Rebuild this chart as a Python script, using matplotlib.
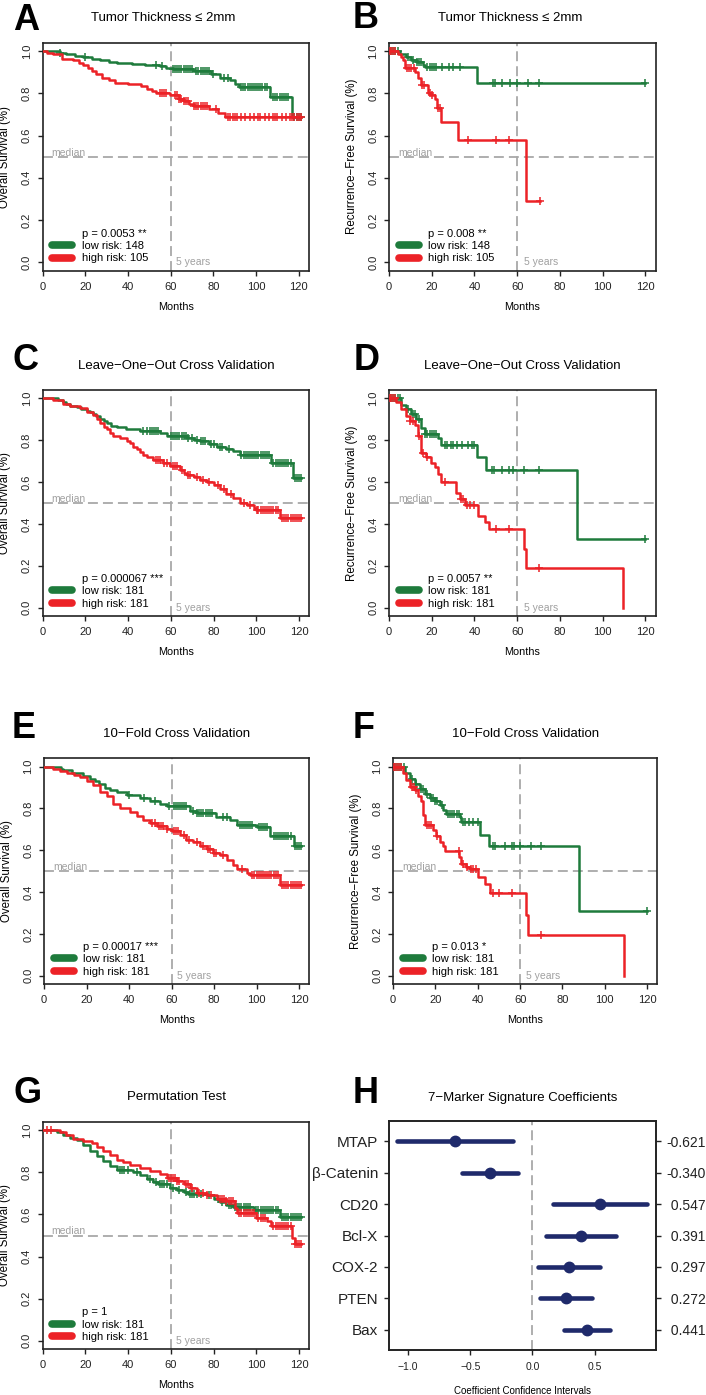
import numpy as np
import matplotlib
matplotlib.use('Agg')
import matplotlib.pyplot as plt
from matplotlib.lines import Line2D

plt.rcParams['font.family'] = ['Liberation Sans', 'DejaVu Sans']

W, H = 706, 1395
green = '#1e7b3c'
red = '#ec2227'
grey = '#a8a8a8'
navy = '#1f2a6b'

# ---- Kaplan-Meier curves: step times, survival, end, censor times ----
# A: overall survival, tumor thickness <= 2mm
a_low_t = [0, 8, 11, 15, 19, 23, 27, 31, 35, 42, 48, 55, 58, 61, 70.5, 79, 83, 88, 90, 92, 106.5, 116.6]
a_low_s = [1, 0.99, 0.985, 0.975, 0.97, 0.963, 0.957, 0.95, 0.945, 0.94, 0.935, 0.93, 0.921, 0.915, 0.905,
           0.89, 0.875, 0.863, 0.845, 0.831, 0.784, 0.69]
a_low_end = 121
a_low_c = [8, 20, 53, 56, 61, 62, 63, 64, 65, 66, 67, 68, 69, 70, 72, 73, 74, 75, 76, 77, 78, 80, 85, 87,
           93, 94, 95, 96, 97, 98, 99, 100, 101, 102, 103, 104, 105, 108, 109, 110, 111, 112, 113, 114,
           115, 118, 119, 120, 121]
a_high_t = [0, 2, 5, 9, 14, 17, 19, 21, 23, 25, 28, 31, 34, 40, 46, 49, 51, 53, 59.5, 64, 66, 68.5, 71, 78,
            82, 85.5]
a_high_s = [1, 0.99, 0.985, 0.965, 0.96, 0.945, 0.935, 0.92, 0.905, 0.89, 0.875, 0.865, 0.85, 0.845, 0.835,
            0.82, 0.81, 0.8, 0.79, 0.775, 0.765, 0.75, 0.74, 0.725, 0.705, 0.686]
a_high_end = 121
a_high_c = [55, 56, 57, 58, 62, 63, 64, 65, 66, 67, 68, 71, 72, 73, 74, 75, 76, 77, 81, 87, 88, 89, 90, 91,
            93, 95, 97, 99, 101, 102, 104, 106, 108, 109, 110, 112, 114, 116, 117, 118, 119, 120, 121]

# B: recurrence-free survival, tumor thickness <= 2mm
b_low_t = [0, 5, 8, 10.5, 13, 16, 17, 41.4]
b_low_s = [1, 0.985, 0.97, 0.957, 0.947, 0.934, 0.925, 0.85]
b_low_end = 120
b_low_c = [1, 2, 3, 4, 9, 11, 13, 14, 15, 18, 19, 20, 21, 22, 25, 28, 30, 33, 48.7, 49.5, 53, 56.5, 60,
           65, 70, 120]
b_high_t = [0, 4, 5.8, 6.5, 7.6, 12, 13.6, 15, 18.3, 19.5, 21.4, 22.5, 24.5, 32.3, 64.3]
b_high_s = [1, 0.985, 0.97, 0.96, 0.92, 0.9, 0.875, 0.84, 0.8, 0.79, 0.775, 0.73, 0.665, 0.58, 0.29]
b_high_end = 70.5
b_high_c = [0.5, 1, 2, 3, 8.5, 9.5, 10.5, 11.5, 15.5, 16.5, 19, 20, 23, 23.8, 37, 50.2, 56.2, 70.5]

# C: overall survival, leave-one-out
c_low_t = [0, 7, 9.7, 11, 13, 16, 18, 20.6, 22, 23.7, 25, 27, 28.5, 30, 32, 34.6, 39, 45.6, 55, 58, 67.4,
           71, 73.7, 78, 81.5, 86, 89, 92.4, 107, 117.4]
c_low_s = [1, 0.99, 0.985, 0.975, 0.965, 0.96, 0.95, 0.94, 0.935, 0.925, 0.915, 0.9, 0.89, 0.88, 0.87,
           0.865, 0.855, 0.845, 0.835, 0.82, 0.81, 0.8, 0.795, 0.78, 0.77, 0.76, 0.75, 0.73, 0.69, 0.62]
c_low_end = 121
c_low_c = [47, 49, 50, 51, 52, 53, 54, 60, 61, 62, 63, 64, 65, 66, 67, 68, 70, 72, 74, 75, 76, 79, 80, 83,
           84, 87, 93, 94, 95, 96, 97, 98, 99, 100, 101, 102, 103, 104, 105, 106, 108, 109, 110, 111, 112,
           113, 114, 115, 116, 118, 119, 120, 121]
c_high_t = [0, 5, 9.7, 12.8, 17.5, 20.6, 23.7, 25.5, 27, 28.5, 30, 31.5, 33, 36, 39.3, 41, 42.5, 44, 45.6,
            47, 48.7, 51.8, 56.5, 59.6, 64.3, 66, 67.4, 70.6, 73.7, 76.8, 80, 83, 86, 89.3, 92.4, 95.5,
            98.7, 100, 111]
c_high_s = [1, 0.99, 0.975, 0.965, 0.955, 0.935, 0.92, 0.9, 0.88, 0.865, 0.855, 0.835, 0.82, 0.81, 0.795,
            0.785, 0.77, 0.76, 0.745, 0.73, 0.72, 0.705, 0.69, 0.675, 0.66, 0.645, 0.635, 0.625, 0.61,
            0.6, 0.585, 0.565, 0.545, 0.525, 0.5, 0.49, 0.475, 0.465, 0.43]
c_high_end = 121
c_high_c = [53, 54, 55, 57, 58, 61, 62, 63, 65, 68, 69, 72, 75, 78, 82, 85, 88, 94, 97, 100.5, 101, 102,
            103, 104, 105, 106, 107, 108, 109, 110, 112, 113, 114, 115, 116, 117, 118, 119, 120, 121]

# D: recurrence-free survival, leave-one-out
d_low_t = [0, 5.8, 8.1, 10.5, 12.8, 15.1, 16.7, 23, 24.5, 41.2, 45.3, 88.2]
d_low_s = [1, 0.97, 0.95, 0.925, 0.9, 0.86, 0.83, 0.81, 0.775, 0.72, 0.66, 0.33]
d_low_end = 120
d_low_c = [1, 2, 3, 4, 5, 9, 11, 12, 14, 17, 18, 19, 20, 21, 22, 26, 27, 29, 30, 32, 34, 37, 39, 40, 48,
           49, 53, 56, 58, 63, 70, 120]
d_high_t = [0, 3.4, 5.8, 8.1, 9.7, 12, 13.6, 15.1, 17.5, 19.8, 21.4, 22.9, 24.5, 31.5, 33, 35.4, 41.7,
            44.8, 46.8, 63.2, 64, 109.3]
d_high_s = [1, 0.985, 0.95, 0.915, 0.89, 0.875, 0.82, 0.74, 0.72, 0.69, 0.67, 0.64, 0.6, 0.55, 0.52, 0.49,
            0.44, 0.41, 0.375, 0.28, 0.19, 0.0]
d_high_end = 109.3
d_high_c = [0.5, 1, 2, 3, 10, 11, 14, 16, 18, 26, 33.5, 34.5, 36.5, 38, 40, 50, 56, 70]

# E: overall survival, 10-fold
e_low_t = [0, 8, 9, 13, 18.5, 21.6, 24, 26, 28.5, 31, 34.2, 39, 45, 50, 54.6, 57.7, 68.7, 71.8, 81, 87.5,
           90.7, 100, 106.4, 117.4]
e_low_s = [1, 0.99, 0.985, 0.97, 0.955, 0.94, 0.93, 0.915, 0.9, 0.89, 0.88, 0.865, 0.85, 0.835, 0.82,
           0.81, 0.79, 0.78, 0.76, 0.745, 0.72, 0.71, 0.67, 0.62]
e_low_end = 121
e_low_c = [40, 47, 52, 59, 61, 62, 63, 64, 65, 66, 67, 70, 72, 73, 74, 75, 76, 77, 78, 79, 84, 86, 92, 93,
           94, 95, 96, 97, 98, 101, 102, 103, 104, 105, 108, 109, 110, 111, 112, 113, 114, 115, 116, 118,
           119, 120, 121]
e_high_t = [0, 4.4, 7.5, 10.7, 14, 17, 20, 23, 26.3, 29.5, 32.6, 35.8, 40.5, 43.6, 46.7, 50, 53, 57.7, 60,
            64, 67, 70, 73.4, 76.5, 79.7, 82.8, 86, 89, 90.7, 95.4, 97, 111]
e_high_s = [1, 0.99, 0.98, 0.97, 0.96, 0.95, 0.93, 0.91, 0.88, 0.86, 0.82, 0.8, 0.785, 0.765, 0.745, 0.73,
            0.715, 0.7, 0.69, 0.675, 0.65, 0.64, 0.62, 0.605, 0.585, 0.575, 0.555, 0.53, 0.51, 0.49, 0.48,
            0.435]
e_high_end = 121
e_high_c = [51, 52, 54, 55, 56, 58, 61, 62, 63, 66, 68, 72, 75, 77, 78, 80, 81, 84, 93, 98, 99, 100, 101,
            102, 103, 104, 105, 106, 107, 108, 109, 110, 112, 113, 114, 115, 116, 117, 118, 119, 120, 121]

# F: recurrence-free survival, 10-fold
f_low_t = [0, 5.5, 7.9, 10.2, 12.6, 15, 17.3, 19.7, 22, 23.6, 25, 31.5, 32.2, 40.9, 45.3, 88]
f_low_s = [1, 0.97, 0.94, 0.915, 0.895, 0.87, 0.85, 0.835, 0.815, 0.795, 0.775, 0.76, 0.735, 0.675, 0.62,
           0.31]
f_low_end = 120
f_low_c = [1, 2, 3, 4, 5, 9, 11, 13, 14, 16, 18, 19, 20, 21, 23, 26, 27, 28, 29, 30, 31, 33, 34, 36, 38,
           40, 47, 48, 53, 56, 57, 60, 65, 70, 120]
f_high_t = [0, 4.7, 6.3, 7.9, 10.2, 11.8, 13.4, 14.2, 15, 18.9, 20.4, 22, 23.6, 24.4, 31.1, 32.2, 34.6,
            36.2, 40.1, 43.3, 45.6, 62.6, 63.7, 109.3]
f_high_s = [1, 0.97, 0.935, 0.905, 0.89, 0.86, 0.835, 0.77, 0.72, 0.695, 0.67, 0.64, 0.62, 0.595, 0.57,
            0.535, 0.52, 0.51, 0.47, 0.44, 0.395, 0.29, 0.195, 0.0]
f_high_end = 109.3
f_high_c = [0.5, 1, 2, 3, 4, 9, 10, 11, 16, 17, 18, 21, 31, 33, 35, 37, 38, 39, 47, 50, 56, 70]

# G: overall survival, permutation test
g_low_t = [0, 6.5, 9.7, 12.8, 16, 19, 22, 25.3, 28.4, 31.5, 34.7, 42.5, 45.6, 48.7, 51.8, 54, 59.6, 62.7,
           66, 68, 76.8, 80, 83, 86, 89, 98.7, 111]
g_low_s = [1, 0.99, 0.975, 0.965, 0.955, 0.93, 0.9, 0.875, 0.855, 0.83, 0.81, 0.8, 0.785, 0.77, 0.755,
           0.745, 0.725, 0.715, 0.705, 0.695, 0.69, 0.675, 0.66, 0.645, 0.635, 0.62, 0.59]
g_low_end = 121
g_low_c = [36, 37, 38, 40, 44, 50, 53, 55, 56, 57, 58, 61, 64, 67, 69, 70, 71, 72, 74, 78, 82, 84, 87, 88,
           90, 91, 92, 93, 94, 95, 96, 97, 100, 101, 102, 103, 104, 105, 106, 107, 108, 109, 110, 112, 113,
           114, 115, 116, 117, 118, 119, 120, 121]
g_high_t = [0, 8, 11, 14.4, 19, 23, 25.3, 28.4, 31.5, 34.7, 37.8, 40.9, 45.6, 50.3, 55, 58, 62.7, 66, 69,
            72, 76.8, 81.5, 86, 90, 91, 100, 105, 107, 116.6, 118]
g_high_s = [1, 0.99, 0.975, 0.96, 0.95, 0.94, 0.92, 0.9, 0.88, 0.86, 0.85, 0.835, 0.82, 0.805, 0.79, 0.775,
            0.76, 0.745, 0.725, 0.7, 0.69, 0.675, 0.665, 0.63, 0.605, 0.585, 0.57, 0.545, 0.49, 0.46]
g_high_end = 121
g_high_c = [2, 4, 59, 60, 61, 62, 63, 64, 67, 68, 70, 73, 75, 77, 79, 83, 84, 85, 86, 87, 88, 89, 92, 93,
            94, 95, 96, 97, 98, 99, 101, 102, 103, 104, 108, 109, 110, 111, 112, 113, 114, 115, 116, 118,
            119, 120, 121]

# H: 7-marker signature coefficients
markers = ['MTAP', 'β-Catenin', 'CD20', 'Bcl-X', 'COX-2', 'PTEN', 'Bax']
coef = [-0.621, -0.340, 0.547, 0.391, 0.297, 0.272, 0.441]
ci_lo = [-1.086, -0.563, 0.166, 0.113, 0.046, 0.064, 0.252]
ci_hi = [-0.155, -0.118, 0.922, 0.673, 0.544, 0.477, 0.625]

fig = plt.figure(figsize=(W / 100, H / 100), dpi=100)


def box(l, t, r, b):
    return fig.add_axes([l / W, 1 - b / H, (r - l) / W, (b - t) / H])


def step_at(t, s, c):
    idx = np.searchsorted(t, c, side='right') - 1
    return np.asarray(s)[idx]


def style_axes(ax):
    for sp in ax.spines.values():
        sp.set_linewidth(1.2)
        sp.set_color('#222222')
    ax.tick_params(direction='out', length=3.8, width=1, labelsize=8, pad=4, colors='#222222')


def km_panel(ax, curves, title, tx, ylab, ptxt, nlow, nhigh, yrs_x):
    ax.axvline(60, color=grey, lw=1.3, dashes=(5.5, 2.8), zorder=1)
    ax.axhline(0.5, color=grey, lw=1.3, dashes=(5.5, 2.8), zorder=1)
    for t, s, end, cens, col in curves:
        ax.step(np.r_[t, end], np.r_[s, s[-1]], where='post', color=col, lw=1.8, zorder=3)
        ax.plot(cens, step_at(t, s, cens), '+', color=col, ms=6, mew=1.1, ls='none', zorder=3)
    ax.set_xlim(0, 124.8)
    ax.set_ylim(-0.04, 1.04)
    ax.set_xticks(np.arange(0, 121, 20))
    yt = np.arange(0, 1.01, 0.2)
    ax.set_yticks(yt)
    ax.set_yticklabels(['%.1f' % v for v in yt], rotation=90, va='center')
    style_axes(ax)
    ax.set_xlabel('Months', fontsize=7.8)
    ax.xaxis.set_label_coords(0.5, -0.136)
    ax.set_ylabel(ylab, fontsize=8.3)
    ax.yaxis.set_label_coords(-0.118, 0.5)
    ax.text(tx, 1 + 21.5 / 227, title, transform=ax.transAxes, ha='center', va='baseline', fontsize=9.5)
    ax.text(4.2, 0.505, 'median', color='#a0a0a0', fontsize=7.5, va='baseline', ha='left')
    ax.text(yrs_x, 0.0, '5 years', color='#a0a0a0', fontsize=7.5, va='center', ha='left')
    hnd = [Line2D([], [], color='none'),
           Line2D([], [], color=green, lw=5.5, solid_capstyle='round'),
           Line2D([], [], color=red, lw=5.5, solid_capstyle='round')]
    ax.legend(hnd, [ptxt, 'low risk: %d' % nlow, 'high risk: %d' % nhigh], loc='lower left',
              bbox_to_anchor=(0.009, 0.0), frameon=False, fontsize=8, handlelength=1.8,
              handletextpad=0.85, labelspacing=0.22, borderaxespad=0.25, borderpad=0.4)


os_lab = 'Overall Survival (%)'
rfs_lab = 'Recurrence\u2212Free Survival (%)'

axA = box(42.7, 42.7, 309, 270.7)
km_panel(axA, [(a_low_t, a_low_s, a_low_end, a_low_c, green), (a_high_t, a_high_s, a_high_end, a_high_c, red)],
         'Tumor Thickness \u2264 2mm', 0.452, os_lab, 'p = 0.0053 **', 148, 105, 62.5)
axB = box(389, 42.7, 655.7, 270.7)
km_panel(axB, [(b_low_t, b_low_s, b_low_end, b_low_c, green), (b_high_t, b_high_s, b_high_end, b_high_c, red)],
         'Tumor Thickness \u2264 2mm', 0.454, rfs_lab, 'p = 0.008 **', 148, 105, 63)
axC = box(42.7, 390, 309.3, 616)
km_panel(axC, [(c_low_t, c_low_s, c_low_end, c_low_c, green), (c_high_t, c_high_s, c_high_end, c_high_c, red)],
         'Leave\u2212One\u2212Out Cross Validation', 0.5, os_lab, 'p = 0.000067 ***', 181, 181, 62.5)
axD = box(389, 390, 655.7, 616)
km_panel(axD, [(d_low_t, d_low_s, d_low_end, d_low_c, green), (d_high_t, d_high_s, d_high_end, d_high_c, red)],
         'Leave\u2212One\u2212Out Cross Validation', 0.5, rfs_lab, 'p = 0.0057 **', 181, 181, 63)
axE = box(44, 758.3, 309.3, 984)
km_panel(axE, [(e_low_t, e_low_s, e_low_end, e_low_c, green), (e_high_t, e_high_s, e_high_end, e_high_c, red)],
         '10\u2212Fold Cross Validation', 0.5, os_lab, 'p = 0.00017 ***', 181, 181, 62.5)
axF = box(393, 758.3, 657.3, 984)
km_panel(axF, [(f_low_t, f_low_s, f_low_end, f_low_c, green), (f_high_t, f_high_s, f_high_end, f_high_c, red)],
         '10\u2212Fold Cross Validation', 0.5, rfs_lab, 'p = 0.013 *', 181, 181, 63)
axG = box(42.7, 1121.7, 309.3, 1349.3)
km_panel(axG, [(g_low_t, g_low_s, g_low_end, g_low_c, green), (g_high_t, g_high_s, g_high_end, g_high_c, red)],
         'Permutation Test', 0.5, os_lab, 'p = 1', 181, 181, 62.5)

# H: coefficient forest plot
axH = box(389, 1121, 655.7, 1350)
rows = np.arange(len(markers), 0, -1)
axH.axvline(0, color=grey, lw=1.3, dashes=(5.5, 2.8), zorder=1)
lc = axH.hlines(rows, ci_lo, ci_hi, color=navy, lw=3.3, zorder=3)
lc.set_capstyle('round')
axH.plot(coef, rows, 'o', color=navy, ms=7.5, ls='none', zorder=4)
axH.set_xlim(-1.153, 0.992)
axH.set_ylim(0.35, 7.65)
axH.set_xticks([-1.0, -0.5, 0.0, 0.5])
axH.set_yticks(rows)
axH.set_yticklabels(markers)
style_axes(axH)
axH.tick_params(axis='x', labelsize=7.5, pad=5)
axH.tick_params(axis='y', labelsize=11)
axH.set_xlabel('Coefficient Confidence Intervals', fontsize=7)
axH.xaxis.set_label_coords(0.5, -0.158)
axH.text(0.5, 1 + 20 / 229, '7\u2212Marker Signature Coefficients', transform=axH.transAxes,
         ha='center', va='baseline', fontsize=9.5)
axH2 = axH.twinx()
axH2.set_ylim(axH.get_ylim())
axH2.set_yticks(rows)
axH2.set_yticklabels(['%6.3f' % v for v in coef])
style_axes(axH2)
axH2.tick_params(axis='y', labelsize=10)

# panel letters
for letter, xp, yp in [('A', 26, 30), ('B', 365.5, 28), ('C', 25.5, 370), ('D', 366.5, 370),
                       ('E', 23.5, 738), ('F', 364, 738), ('G', 27.5, 1103), ('H', 366, 1103)]:
    fig.text(xp / W, 1 - yp / H, letter, fontsize=26, fontweight='bold', ha='center', va='baseline')

fig.savefig('out.png', dpi=100)
